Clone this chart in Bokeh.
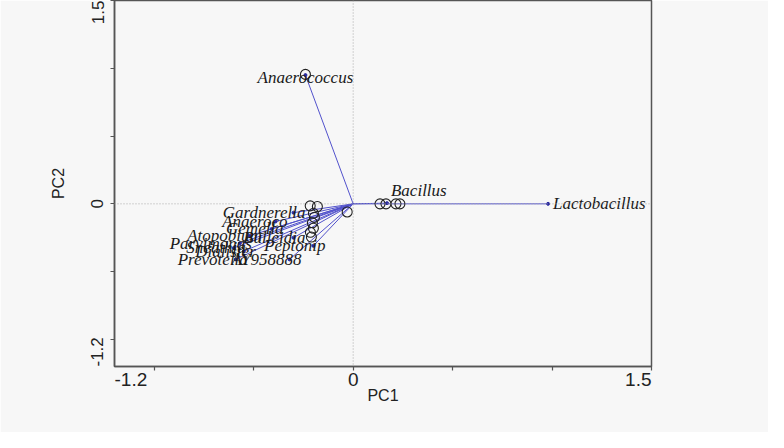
from bokeh.plotting import figure
from bokeh.models import FixedTicker, Span, ColumnDataSource, Range1d
from bokeh.core.properties import value
from bokeh.embed import file_html
from bokeh.resources import INLINE

# ---- data ----
left_species = ["Gardnerella", "Anaeroco", "Gemella", "Atopobium", "Bulleidia",
                "Parvimonas", "Peptonip", "Sneathia", "Dialister", "Prevotella", "AY958888"]
left_pc1 = [-0.30, -0.39, -0.41, -0.52, -0.30, -0.57, -0.20, -0.60, -0.55, -0.59, -0.32]
left_pc2 = [-0.065, -0.13, -0.185, -0.235, -0.25, -0.29, -0.31, -0.325, -0.35, -0.41, -0.41]

top_species = ["Anaerococcus"]
top_pc1 = [-0.24]
top_pc2 = [0.95]

right_species = ["Bacillus", "Lactobacillus"]
right_pc1 = [0.17, 0.98]
right_pc2 = [0.005, 0.0]

sample_pc1 = [-0.216, -0.18, -0.20, -0.195, -0.205, -0.20, -0.215, -0.21, -0.03,
              -0.24, 0.135, 0.165, 0.215, 0.235]
sample_pc2 = [-0.015, -0.02, -0.07, -0.10, -0.14, -0.18, -0.21, -0.245, -0.06,
              0.955, 0.0, 0.0, 0.0, 0.0]

x_min, x_max = -1.2, 1.5
y_min, y_max = -1.2, 1.5
tick_values = [-1.0, -0.5, 0.0, 0.5, 1.0, 1.5]
x_axis_title = "PC1"
y_axis_title = "PC2"

# ---- layout ----
FRAME_W, FRAME_H = 537, 366
X_FONT, Y_FONT = 19, 17
BG = "#f7f7f7"

# Liberation Sans (Arial metrics) advance widths, used to align the end labels
ARIAL = {"-": 0.333, "1": 0.556, "2": 0.556, "5": 0.556, ".": 0.278, "0": 0.556}


def text_w(s, size):
    return sum(ARIAL.get(c, 0.556) for c in s) * size


px_x = FRAME_W / (x_max - x_min)
px_y = FRAME_H / (y_max - y_min)
lo_x, hi_x = f"{x_min:g}", f"{x_max:g}"
lo_y, hi_y = f"{y_min:g}", f"{y_max:g}"
# end labels sit flush with the ends of the axes, "0" is centred on its tick
x_label_pos = [x_min + text_w(lo_x, X_FONT) / 2 / px_x, 0.0, x_max - text_w(hi_x, X_FONT) / 2 / px_x]
y_label_pos = [y_min + text_w(lo_y, Y_FONT) / 2 / px_y, 0.0, y_max - text_w(hi_y, Y_FONT) / 2 / px_y]

p = figure(frame_width=FRAME_W, frame_height=FRAME_H,
           min_border_left=114, min_border_right=117,
           min_border_top=0, min_border_bottom=66,
           x_range=Range1d(x_min, x_max), y_range=Range1d(y_min, y_max),
           output_backend="svg", toolbar_location=None,
           background_fill_color=BG, border_fill_color=BG,
           outline_line_color="#555555", outline_line_width=1.5)
p.xgrid.visible = False
p.ygrid.visible = False

for ax, pos, labels, size in ((p.xaxis[0], x_label_pos, [lo_x, "0", hi_x], X_FONT),
                              (p.yaxis[0], y_label_pos, [lo_y, "0", hi_y], Y_FONT)):
    ax.ticker = FixedTicker(ticks=pos, minor_ticks=tick_values)
    ax.major_label_overrides = dict(zip(pos, labels))
    ax.major_tick_line_color = None
    ax.major_tick_in = 0
    ax.major_tick_out = 4
    ax.minor_tick_in = 0
    ax.minor_tick_out = 4
    ax.minor_tick_line_color = "#555555"
    ax.minor_tick_line_width = 1.2
    ax.axis_line_color = "#555555"
    ax.axis_line_width = 1.5
    ax.major_label_text_font = "Liberation Sans"
    ax.major_label_text_font_size = f"{size}px"
    ax.major_label_text_color = "#222222"
    ax.axis_label_text_font = "Liberation Sans"
    ax.axis_label_text_font_size = "16px"
    ax.axis_label_text_font_style = "normal"
    ax.axis_label_text_color = "#222222"

p.xaxis[0].major_label_standoff = 2
p.xaxis[0].axis_label = x_axis_title
p.xaxis[0].axis_label_standoff = -2
p.yaxis[0].major_label_orientation = "vertical"
p.yaxis[0].major_label_standoff = 7
p.yaxis[0].axis_label = y_axis_title
p.yaxis[0].axis_label_standoff = 22

# zero reference lines
for dim in ("height", "width"):
    p.add_layout(Span(location=0, dimension=dim, line_color="#aaaaaa",
                      line_dash="1 2", line_width=1))

# vectors
all_pc1 = left_pc1 + top_pc1 + right_pc1
all_pc2 = left_pc2 + top_pc2 + right_pc2
vec = ColumnDataSource(dict(x1=all_pc1, y1=all_pc2))
p.segment(x0=0, y0=0, x1="x1", y1="y1", source=vec, line_color="#5252cc", line_width=1)
p.scatter(x="x1", y="y1", source=vec, size=3, color="#2a2aa0")

# sample circles
p.scatter(x=sample_pc1, y=sample_pc2, size=10, fill_alpha=0,
          line_color="#222222", line_width=1.1)

font_kw = dict(text_font=value("Liberation Serif"), text_font_style="italic",
               text_font_size="17px", text_color="#1a1a1a")
p.text(x=left_pc1, y=left_pc2, text=left_species, text_align="right",
       text_baseline="middle", x_offset=12, **font_kw)
p.text(x=top_pc1, y=top_pc2, text=top_species, text_align="center",
       text_baseline="alphabetic", y_offset=2, **font_kw)
p.text(x=right_pc1[:1], y=right_pc2[:1], text=right_species[:1], text_align="left",
       text_baseline="bottom", x_offset=4, y_offset=-3, **font_kw)
p.text(x=right_pc1[1:], y=right_pc2[1:], text=right_species[1:], text_align="left",
       text_baseline="middle", x_offset=5, **font_kw)

open("out.html", "w").write(file_html(p, INLINE))
